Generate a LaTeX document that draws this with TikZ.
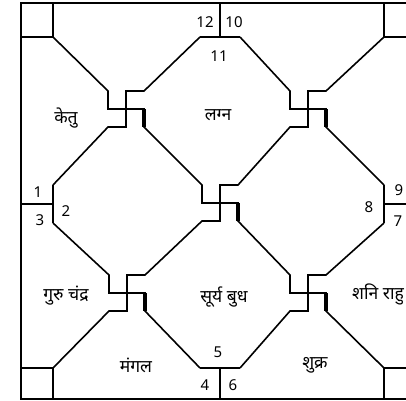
\documentclass[tikz,border=0pt]{standalone}
\usepackage{fontspec}
\setmainfont{Noto Sans}
\newfontfamily\hindi[Script=Devanagari]{Noto Sans}
\usetikzlibrary{calc}

\begin{document}
\begin{tikzpicture}[
    x=1pt, y=-1pt,
    chartline/.style={draw=black, line width=1.6pt, line join=miter},
    frameline/.style={draw=black, line width=2.4pt},
    hookline/.style={draw=black, line width=3.2pt},
    housenum/.style={font=\fontsize{15}{17}\selectfont, inner sep=0pt},
    planet/.style={font=\hindi\fontsize{17.5}{20}\selectfont, inner sep=0pt}
]
\useasboundingbox (0,0) rectangle (406,400);
\clip (0,0) rectangle (406,400);

% --- COORDINATES ---
\coordinate (cTL) at (53,37);
\coordinate (cTR) at (384,37);
\coordinate (cBL) at (53,368);
\coordinate (cBR) at (384,368);
\coordinate (tL) at (200,37);
\coordinate (tR) at (240,37);
\coordinate (lT) at (53,185);
\coordinate (lB) at (53,223);
\coordinate (rT) at (384,185);
\coordinate (rB) at (384,223);
\coordinate (bL) at (200,368);
\coordinate (bR) at (240,368);
\coordinate (pTL) at (126,109);
\coordinate (pTR) at (308,109);
\coordinate (pBL) at (127,293);
\coordinate (pBR) at (308,293);
\coordinate (pC) at (220,203);

% --- FRAME AND CORNER BOXES ---
\draw [frameline] (21,3) rectangle (416,399);
\draw [chartline] (21,37) -- (cTL) -- (53,3);
\draw [chartline] (416,37) -- (cTR) -- (384,3);
\draw [chartline] (21,368) -- (cBL) -- (53,399);
\draw [chartline] (416,368) -- (cBR) -- (384,399);

% --- MID-SIDE CUTS ---
\draw [chartline] (220,3) -- (220,37) (tL) -- (tR);
\draw [chartline] (21,204) -- (53,204) (lT) -- (lB);
\draw [chartline] (416,204) -- (384,204) (rT) -- (rB);
\draw [chartline] (220,399) -- (220,368) (bL) -- (bR);

% --- TOP-LEFT PINWHEEL ---
\draw [chartline] (pTL) -- ++(-18,0) -- ++(0,-18) -- (cTL);
\draw [chartline] (pTL) -- ++(0,-18) -- ++(18,0) -- (tL);
\draw [chartline] (pTL) -- ++(0,18) -- ++(-18,0) -- (lT);
\draw [chartline] (pTL) -- ++(18,0) -- ++(0,18) -- ($(pC)+(-18,-18)$) -- ++(0,18) -- (pC);

% --- TOP-RIGHT PINWHEEL ---
\draw [chartline] (pTR) -- ++(-18,0) -- ++(0,-18) -- (tR);
\draw [chartline] (pTR) -- ++(0,-18) -- ++(18,0) -- (cTR);
\draw [chartline] (pTR) -- ++(18,0) -- ++(0,18) -- (rT);
\draw [chartline] (pTR) -- ++(0,18) -- ++(-18,0) -- ($(pC)+(18,-18)$) -- ++(-18,0) -- (pC);

% --- BOTTOM-LEFT PINWHEEL ---
\draw [chartline] (pBL) -- ++(-18,0) -- ++(0,-18) -- (lB);
\draw [chartline] (pBL) -- ++(0,-18) -- ++(18,0) -- ($(pC)+(-18,18)$) -- ++(18,0) -- (pC);
\draw [chartline] (pBL) -- ++(18,0) -- ++(0,18) -- (bL);
\draw [chartline] (pBL) -- ++(0,18) -- ++(-18,0) -- (cBL);

% --- BOTTOM-RIGHT PINWHEEL ---
\draw [chartline] (pBR) -- ++(-18,0) -- ++(0,-18) -- ($(pC)+(18,18)$) -- ++(0,-18) -- (pC);
\draw [chartline] (pBR) -- ++(0,-18) -- ++(18,0) -- (rB);
\draw [chartline] (pBR) -- ++(18,0) -- ++(0,18) -- (cBR);
\draw [chartline] (pBR) -- ++(0,18) -- ++(-18,0) -- (bR);

% thick hooks on the right arms
\draw [hookline] (pTL) ++(18,0) -- ++(0,18);
\draw [hookline] (pTR) ++(18,0) -- ++(0,18);
\draw [hookline] (pBL) ++(18,0) -- ++(0,18);
\draw [hookline] (pBR) ++(18,0) -- ++(0,18);
\draw [hookline] (pC) ++(18,0) -- ++(0,18);

% --- HOUSE NUMBERS ---
\node (h12) [housenum] at (205,22) {12};
\node (h10) [housenum] at (234,22) {10};
\node (h11) [housenum] at (219,56) {11};
\node (h1) [housenum] at (38,192) {1};
\node (h3) [housenum] at (40,220) {3};
\node (h2) [housenum] at (66,211) {2};
\node (h9) [housenum] at (399,190) {9};
\node (h8) [housenum] at (369,207) {8};
\node (h7) [housenum] at (398,221) {7};
\node (h5) [housenum] at (218,352) {5};
\node (h4) [housenum] at (205,385) {4};
\node (h6) [housenum] at (233,385) {6};

% --- PLANETS ---
\node (ketu) [planet] at (66,118) {केतु};
\node (lagna) [planet] at (218,115) {लग्न};
\node (guru) [planet] at (66,296) {गुरु चंद्र};
\node (mangal) [planet] at (136,365) {मंगल};
\node (surya) [planet] at (224,297) {सूर्य बुध};
\node (shani) [planet] at (378,294) {शनि राहु};
\node (shukra) [planet] at (315,365) {शुक्र};

\end{tikzpicture}
\end{document}
